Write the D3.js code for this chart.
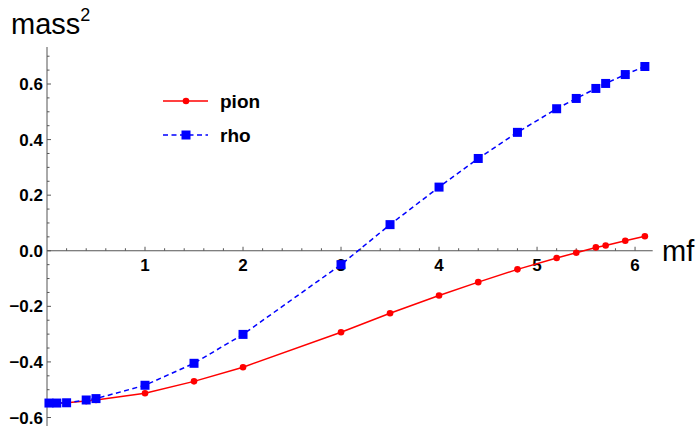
<!DOCTYPE html>
<html>
<head>
<meta charset="utf-8">
<script src="https://cdn.jsdelivr.net/npm/d3@7"></script>
<style>
  body { margin: 0; background: #fff; }
  svg { display: block; font-family: "Liberation Sans", Arial, sans-serif; }
</style>
</head>
<body>
<div id="chart"></div>
<script>
(function() {

  // data
  var mf = [0.02, 0.1, 0.2, 0.4, 0.5, 1, 1.5, 2, 3, 3.5, 4, 4.4, 4.8, 5.2, 5.4, 5.6, 5.7, 5.9, 6.1];
  var pion = [-0.548, -0.548, -0.547, -0.541, -0.537, -0.513, -0.470, -0.419, -0.293, -0.225,
              -0.161, -0.113, -0.067, -0.026, -0.007, 0.012, 0.019, 0.036, 0.052];
  var rho = [-0.548, -0.548, -0.547, -0.537, -0.532, -0.484, -0.405, -0.301, -0.050, 0.094,
             0.229, 0.332, 0.426, 0.511, 0.548, 0.584, 0.602, 0.634, 0.663];
  var xTicks = [1, 2, 3, 4, 5, 6];
  var yTicks = [-0.6, -0.4, -0.2, 0.0, 0.2, 0.4, 0.6];
  var seriesNames = ["pion", "rho"];

  var width = 697,
      height = 426;

  var x = d3.scaleLinear().domain([0, 6.18]).range([47, 652.7]);
  var y = d3.scaleLinear().domain([-0.6, 0.6]).range([417.5, 84]);

  var svg = d3.select("#chart").append("svg")
      .attr("width", width)
      .attr("height", height);

  var axisColor = "#555";

  // x axis (at y = 0)
  var xa = svg.append("g").attr("class", "xaxis");
  xa.append("line")
      .attr("x1", x(0)).attr("x2", x(6.18))
      .attr("y1", y(0)).attr("y2", y(0))
      .style("stroke", axisColor).style("stroke-width", 1);

  var xMinor = d3.range(0.2, 6.19, 0.2);
  xa.selectAll("line.minor")
      .data(xMinor)
    .enter().append("line")
      .attr("class", "minor")
      .attr("x1", function(d) { return x(d); })
      .attr("x2", function(d) { return x(d); })
      .attr("y1", y(0))
      .attr("y2", function(d) {
        return Math.abs(d - Math.round(d)) < 1e-6 ? y(0) - 4 : y(0) - 2.5;
      })
      .style("stroke", axisColor).style("stroke-width", 1);

  xa.selectAll("text")
      .data(xTicks)
    .enter().append("text")
      .attr("x", function(d) { return x(d); })
      .attr("y", y(0) + 20)
      .attr("text-anchor", "middle")
      .style("font-size", "17px")
      .style("font-weight", "bold")
      .text(function(d) { return d; });

  // y axis (at x = 0)
  var ya = svg.append("g").attr("class", "yaxis");
  ya.append("line")
      .attr("x1", x(0)).attr("x2", x(0))
      .attr("y1", 47).attr("y2", height)
      .style("stroke", axisColor).style("stroke-width", 1);

  var yMinor = d3.range(-0.6, 0.71, 0.05);
  ya.selectAll("line.minor")
      .data(yMinor)
    .enter().append("line")
      .attr("class", "minor")
      .attr("x1", x(0))
      .attr("x2", function(d) {
        var k = d / 0.2;
        return Math.abs(k - Math.round(k)) < 1e-6 ? x(0) + 4 : x(0) + 2.5;
      })
      .attr("y1", function(d) { return y(d); })
      .attr("y2", function(d) { return y(d); })
      .style("stroke", axisColor).style("stroke-width", 1);

  ya.selectAll("text")
      .data(yTicks)
    .enter().append("text")
      .attr("x", x(0) - 4)
      .attr("y", function(d) { return y(d); })
      .attr("dy", "0.36em")
      .attr("text-anchor", "end")
      .style("font-size", "17px")
      .style("font-weight", "bold")
      .text(function(d) { return d3.format(".1f")(d).replace("-", "\u2212"); });

  // axis titles
  var yt = svg.append("text")
      .attr("x", 11)
      .attr("y", 34)
      .style("font-size", "29px");
  yt.append("tspan").text("mass");
  yt.append("tspan")
      .attr("dy", -13)
      .style("font-size", "18px")
      .text("2");

  svg.append("text")
      .attr("x", 662)
      .attr("y", 261)
      .style("font-size", "29px")
      .text("mf");

  // series
  var line = d3.line()
      .x(function(d) { return x(d[0]); })
      .y(function(d) { return y(d[1]); });

  var rhoPts = mf.map(function(d, i) { return [d, rho[i]]; });
  var pionPts = mf.map(function(d, i) { return [d, pion[i]]; });

  svg.append("path")
      .datum(pionPts)
      .attr("d", line)
      .style("fill", "none")
      .style("stroke", "#ff0000")
      .style("stroke-width", 1.5);

  svg.selectAll("circle.pion")
      .data(pionPts)
    .enter().append("circle")
      .attr("class", "pion")
      .attr("cx", function(d) { return x(d[0]); })
      .attr("cy", function(d) { return y(d[1]); })
      .attr("r", 3.3)
      .style("fill", "#ff0000");

  svg.append("path")
      .datum(rhoPts)
      .attr("d", line)
      .style("fill", "none")
      .style("stroke", "#0000ff")
      .style("stroke-width", 1.5)
      .style("stroke-dasharray", "5,3.5");

  svg.selectAll("rect.rho")
      .data(rhoPts)
    .enter().append("rect")
      .attr("class", "rho")
      .attr("x", function(d) { return x(d[0]) - 4.5; })
      .attr("y", function(d) { return y(d[1]) - 4.5; })
      .attr("width", 9)
      .attr("height", 9)
      .style("fill", "#0000ff");

  // legend
  var legend = svg.append("g").attr("class", "legend");
  var ly = [101, 135];
  var colors = ["#ff0000", "#0000ff"];

  seriesNames.forEach(function(name, i) {
    var g = legend.append("g").attr("transform", "translate(0," + ly[i] + ")");
    g.append("line")
        .attr("x1", 163).attr("x2", 208)
        .style("stroke", colors[i])
        .style("stroke-width", 1.5)
        .style("stroke-dasharray", i == 1 ? "5,3.5" : null);
    if (i == 0) {
      g.append("circle").attr("cx", 186).attr("r", 3.3).style("fill", colors[i]);
    } else {
      g.append("rect").attr("x", 181.5).attr("y", -4.5)
          .attr("width", 9).attr("height", 9).style("fill", colors[i]);
    }
    g.append("text")
        .attr("x", 220)
        .attr("dy", "0.36em")
        .style("font-size", "19px")
        .style("font-weight", "bold")
        .text(name);
  });

})();
</script>
</body>
</html>
